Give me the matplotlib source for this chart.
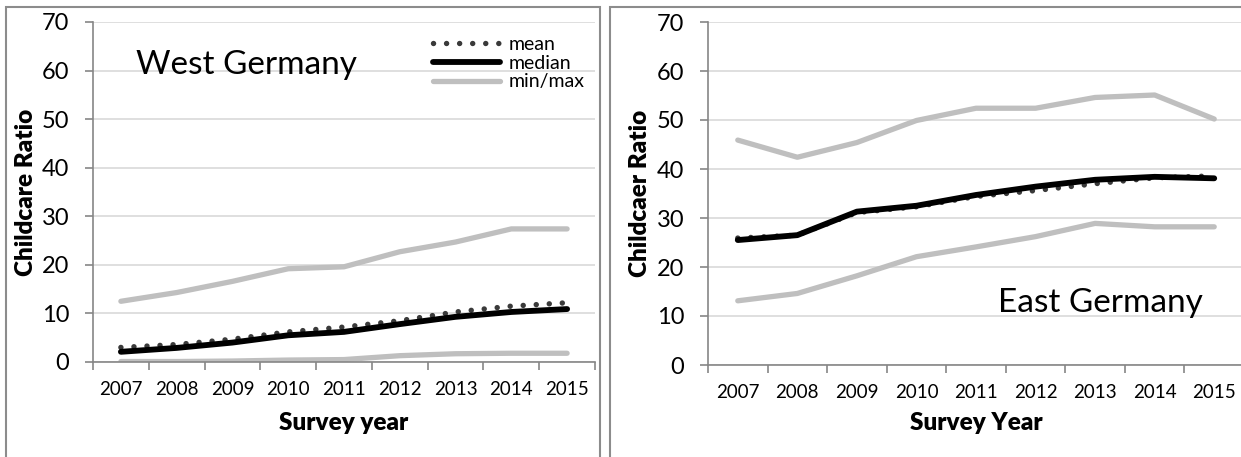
import matplotlib
matplotlib.use("Agg")
import matplotlib.pyplot as plt
from matplotlib.patches import Rectangle

plt.rcParams['font.family'] = ['Lato', 'DejaVu Sans']

years = [2007, 2008, 2009, 2010, 2011, 2012, 2013, 2014, 2015]

# West Germany
west_mean = [3.0, 3.6, 4.7, 6.2, 7.2, 8.5, 10.3, 11.5, 12.2]
west_median = [2.1, 2.9, 4.0, 5.5, 6.2, 7.8, 9.3, 10.3, 10.9]
west_min = [0.1, 0.1, 0.2, 0.4, 0.5, 1.3, 1.7, 1.8, 1.8]
west_max = [12.5, 14.3, 16.6, 19.2, 19.6, 22.7, 24.7, 27.4, 27.4]

# East Germany
east_mean = [25.9, 26.5, 31.1, 32.3, 34.4, 35.6, 37.0, 38.2, 38.6]
east_median = [25.5, 26.5, 31.3, 32.5, 34.7, 36.4, 37.8, 38.4, 38.1]
east_min = [13.1, 14.6, 18.2, 22.1, 24.1, 26.2, 28.9, 28.2, 28.2]
east_max = [45.9, 42.4, 45.4, 49.9, 52.4, 52.4, 54.6, 55.1, 50.2]

W, H = 1241, 457
GRAY = '#BFBFBF'
AXIS = '#868686'


def px(x, y):
    # pixel position (top-left origin) -> figure fraction
    return x / W, 1 - y / H


def draw_panel(ax, mean, median, lo, hi):
    x = list(range(len(years)))
    ax.plot(x, lo, color=GRAY, lw=3.8, solid_capstyle='round', label='min/max')
    ax.plot(x, hi, color=GRAY, lw=3.8, solid_capstyle='round')
    ax.plot(x, mean, color='#3A3A3A', lw=3.9, linestyle=(0, (0.01, 2.4)),
            dash_capstyle='round', label='mean')
    ax.plot(x, median, color='black', lw=4.2, solid_capstyle='round', label='median')

    ax.set_xlim(-0.5, len(years) - 0.5)
    ax.set_ylim(0, 70)
    ax.set_yticks(range(0, 71, 10))
    ax.yaxis.grid(True, color='#D9D9D9', lw=1.2)
    ax.set_axisbelow(True)

    # ticks on category boundaries, labels at centers
    ax.set_xticks([i - 0.5 for i in range(len(years) + 1)])
    ax.set_xticklabels([])
    ax.set_xticks(x, minor=True)
    ax.set_xticklabels([str(y) for y in years], minor=True)
    ax.tick_params(axis='x', which='major', length=6, color=AXIS, width=1.2)
    ax.tick_params(axis='x', which='minor', length=0, pad=14, labelsize=13.5)
    ax.tick_params(axis='y', length=6, color=AXIS, width=1.2, pad=11, labelsize=17)

    for side in ['top', 'right']:
        ax.spines[side].set_visible(False)
    for side in ['left', 'bottom']:
        ax.spines[side].set_color(AXIS)
        ax.spines[side].set_linewidth(1.2)


fig = plt.figure(figsize=(W / 100, H / 100), dpi=100)

# panel frames
fig.patches.append(Rectangle(px(6, 480), 594 / W, 473 / H, transform=fig.transFigure,
                             fill=False, edgecolor='#8C8C8C', lw=1.5))
fig.patches.append(Rectangle(px(610, 480), 700 / W, 473 / H, transform=fig.transFigure,
                             fill=False, edgecolor='#8C8C8C', lw=1.5))

ax1 = fig.add_axes([93 / W, 95 / H, 502 / W, 340 / H])
ax2 = fig.add_axes([708 / W, 92 / H, 536 / W, 343 / H])

draw_panel(ax1, west_mean, west_median, west_min, west_max)
draw_panel(ax2, east_mean, east_median, east_min, east_max)

# legend only on the west panel, in mean / median / min-max order
h, l = ax1.get_legend_handles_labels()
order = [l.index('mean'), l.index('median'), l.index('min/max')]
ax1.legend([h[i] for i in order], [l[i] for i in order], loc='upper left',
           bbox_to_anchor=(0.677, 0.96), frameon=False,
           fontsize=14, handlelength=3.45, handletextpad=0.45, labelspacing=0.1,
           borderpad=0, borderaxespad=0)

fig.text(*px(136, 74), 'West Germany', fontsize=24, ha='left', va='baseline')
fig.text(*px(998, 312), 'East Germany', fontsize=24, ha='left', va='baseline')

fig.text(*px(26, 192), 'Childcare Ratio', rotation=90, fontsize=17.5,
         fontweight='heavy', ha='center', va='center')
fig.text(*px(640, 193), 'Childcaer Ratio', rotation=90, fontsize=17.5,
         fontweight='heavy', ha='center', va='center')
fig.text(*px(344, 423), 'Survey year', fontsize=17.5, fontweight='heavy',
         ha='center', va='center')
fig.text(*px(976, 423), 'Survey Year', fontsize=17.5, fontweight='heavy',
         ha='center', va='center')

fig.savefig('out.png', dpi=100)
